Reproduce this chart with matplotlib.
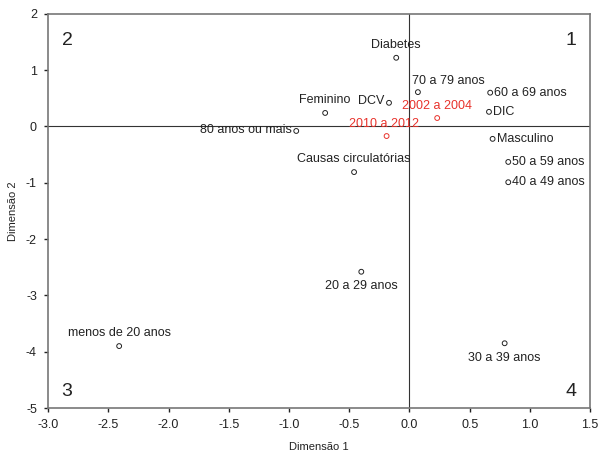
import matplotlib
matplotlib.use("Agg")
import matplotlib.pyplot as plt

plt.rcParams['font.family'] = ['Liberation Sans', 'DejaVu Sans']
plt.rcParams['axes.unicode_minus'] = False

# Coordenadas das categorias (Dimensão 1, Dimensão 2)
rotulos = ['Diabetes', '70 a 79 anos', '60 a 69 anos', 'DIC', 'DCV', 'Feminino',
           '80 anos ou mais', 'Causas circulatórias', 'Masculino', '50 a 59 anos',
           '40 a 49 anos', '20 a 29 anos', '30 a 39 anos', 'menos de 20 anos']
dim1 = [-0.11, 0.07, 0.67, 0.66, -0.17, -0.70, -0.94, -0.46, 0.69, 0.82, 0.82, -0.40, 0.79, -2.41]
dim2 = [1.22, 0.61, 0.60, 0.26, 0.42, 0.24, -0.08, -0.81, -0.22, -0.63, -0.99, -2.58, -3.85, -3.90]
# posição do rótulo em relação ao ponto
posicao = ['acima', 'acima_dir', 'dir', 'dir', 'esq', 'acima', 'esq', 'acima',
           'dir', 'dir', 'dir', 'abaixo', 'abaixo', 'acima']

# Períodos (em vermelho)
periodos = ['2002 a 2004', '2010 a 2012']
per_dim1 = [0.23, -0.19]
per_dim2 = [0.15, -0.17]

quadrantes = ['1', '2', '3', '4']

fig = plt.figure(figsize=(6.01, 4.51), dpi=100)
ax = fig.add_axes([0.080, 0.0953, 0.902, 0.874])

ax.axhline(0, color='#333333', lw=0.8, zorder=1)
ax.axvline(0, color='#333333', lw=0.8, zorder=1)

ax.scatter(dim1, dim2, s=12, facecolors='none', edgecolors='#222222', linewidths=0.7, zorder=3)
ax.scatter(per_dim1, per_dim2, s=12, facecolors='none', edgecolors='#e8322b', linewidths=0.7, zorder=3)

desloc = {'acima': ((0, 5), 'center', 'bottom'),
          'acima_dir': ((-4, 4), 'left', 'bottom'),
          'dir': ((3, 0), 'left', 'center'),
          'esq': ((-3, 1), 'right', 'center'),
          'abaixo': ((0, -6), 'center', 'top')}
for r, x, y, p in zip(rotulos, dim1, dim2, posicao):
    off, ha, va = desloc[p]
    ax.annotate(r, (x, y), xytext=off, textcoords='offset points', ha=ha, va=va,
                fontsize=9, color='#222222')

ax.annotate(periodos[0], (per_dim1[0], per_dim2[0]), xytext=(0, 4), textcoords='offset points',
            ha='center', va='bottom', fontsize=9, color='#e8322b')
ax.annotate(periodos[1], (per_dim1[1], per_dim2[1]), xytext=(-2, 4), textcoords='offset points',
            ha='center', va='bottom', fontsize=9, color='#e8322b')

cantos = [(0.975, 0.955, 'right', 'top'), (0.025, 0.955, 'left', 'top'),
          (0.025, 0.02, 'left', 'bottom'), (0.975, 0.02, 'right', 'bottom')]
for q, (cx, cy, ha, va) in zip(quadrantes, cantos):
    ax.text(cx, cy, q, transform=ax.transAxes, ha=ha, va=va, fontsize=14, color='#222222')

ax.set_xlim(-3.0, 1.5)
ax.set_ylim(-5, 2)
ax.set_xticks([-3.0, -2.5, -2.0, -1.5, -1.0, -0.5, 0.0, 0.5, 1.0, 1.5])
ax.set_xticklabels(['-3.0', '-2.5', '-2.0', '-1.5', '-1.0', '-0.5', '0.0', '0.5', '1.0', '1.5'])
ax.set_yticks([-5, -4, -3, -2, -1, 0, 1, 2])
ax.tick_params(direction='out', length=3, width=1, labelsize=9, colors='#222222', pad=5)
for s in ax.spines.values():
    s.set_color('#777777')
    s.set_linewidth(1.2)

ax.set_xlabel('Dimensão 1', fontsize=8, color='#222222', labelpad=8)
ax.set_ylabel('Dimensão 2', fontsize=8, color='#222222', labelpad=6)

fig.savefig('out.png', dpi=100)
